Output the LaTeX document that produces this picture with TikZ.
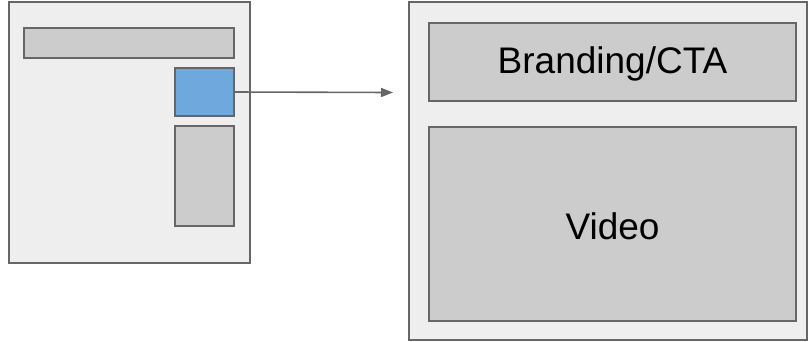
\documentclass[tikz,border=0pt]{standalone}
\usepackage{fontspec}
\setmainfont{Liberation Sans}
\usetikzlibrary{arrows.meta}
\definecolor{panelfill}{HTML}{EEEEEE}
\definecolor{barfill}{HTML}{CCCCCC}
\definecolor{bluefill}{HTML}{6FA8DC}
\definecolor{edge}{HTML}{666666}
\begin{document}
\begin{tikzpicture}[x=1pt,y=-1pt,
  box/.style={draw=edge,line width=2pt,rectangle,inner sep=0pt,outer sep=0pt,anchor=north west},
  rbox/.style={draw=edge,line width=1.4pt,rectangle,inner sep=0pt,outer sep=0pt,anchor=north west},
  lbl/.style={font=\fontsize{37}{42}\selectfont,text=black}]
\useasboundingbox (0,0) rectangle (808,341);
% left panel
\node[box,fill=panelfill,minimum width=241pt,minimum height=261pt] (lp) at (9,2) {};
\node[box,fill=barfill,minimum width=210pt,minimum height=30pt] (bar) at (24,28) {};
\node[box,fill=bluefill,minimum width=59pt,minimum height=48pt] (blue) at (175,68) {};
\node[box,fill=barfill,minimum width=59pt,minimum height=100pt] (side) at (175,126) {};
% right panel
\node[rbox,fill=panelfill,minimum width=398pt,minimum height=338pt] (rp) at (409,2) {};
\node[rbox,fill=barfill,minimum width=367pt,minimum height=78pt] (brand) at (429,23) {};
\node[lbl] at ([yshift=-2pt]brand.center) {Branding/CTA};
\node[rbox,fill=barfill,minimum width=367pt,minimum height=194pt] (video) at (429,127) {};
\node[lbl] at ([yshift=-2pt]video.center) {Video};
% arrow
\coordinate (tip) at (393,92.5);
\draw[edge,line width=1.6pt,-{Triangle[length=12pt,width=9pt]}] (blue.east) -- (tip);
\end{tikzpicture}
\end{document}
